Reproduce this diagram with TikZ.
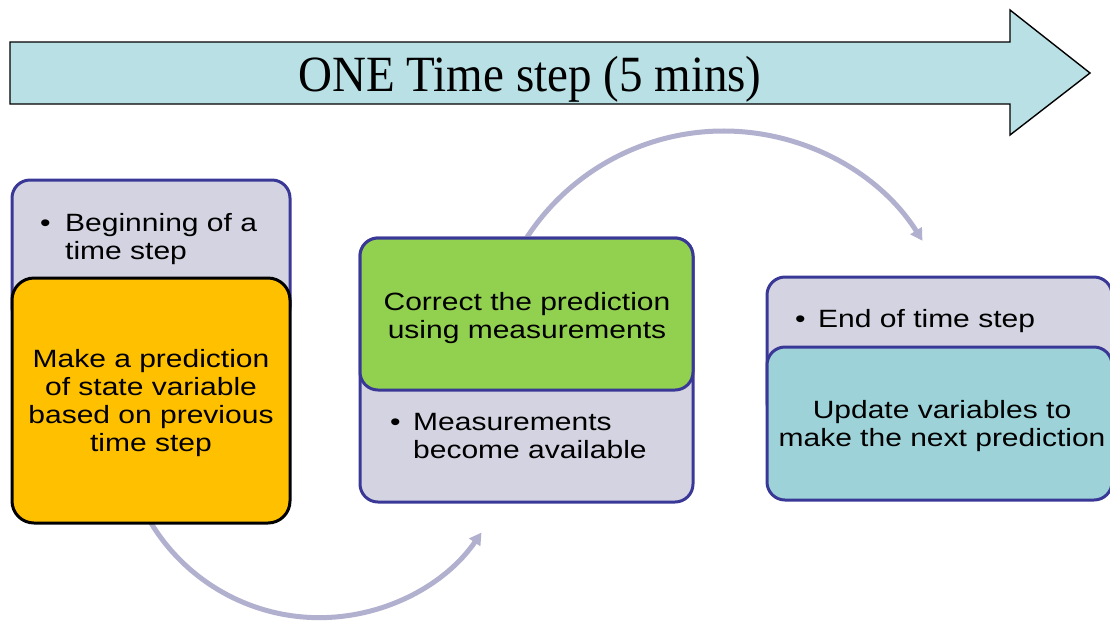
\documentclass[tikz,border=0pt]{standalone}
\usepackage{graphicx}
\usepackage{fontspec}
\setmainfont{Liberation Sans}
\newfontfamily\titlefont{Liberation Serif}
\usetikzlibrary{arrows.meta}

\definecolor{bannerfill}{RGB}{185,224,228}
\definecolor{panelgray}{RGB}{211,211,225}
\definecolor{paneledge}{RGB}{58,56,150}
\definecolor{predfill}{RGB}{255,192,0}
\definecolor{corrfill}{RGB}{146,208,80}
\definecolor{updfill}{RGB}{157,211,216}
\definecolor{loopline}{RGB}{177,177,207}

% slightly widened body text
\newcommand{\wtext}[1]{\scalebox{1.2}[1]{#1}}

\begin{document}
\begin{tikzpicture}[x=1pt,y=-1pt,
  box/.style={line width=3pt, inner sep=0pt, outer sep=0pt, rounded corners=18pt},
  panel/.style={box, draw=paneledge, fill=panelgray},
  line/.style={font=\fontsize{25}{28}\selectfont, inner sep=0pt, text=black},
  loopflow/.style={draw=loopline, line width=5pt,
    -{Triangle[length=12pt,width=13pt]}},
  banner/.style={draw=black, line width=1.4pt, fill=bannerfill, line join=miter}]
\useasboundingbox (0,0) rectangle (1110,622);
\clip (0,0) rectangle (1110,622);

% banner arrow for the whole time step
\draw[banner] (10,42) -- (1010,42) -- (1010,10) -- (1090,73) -- (1010,135)
  -- (1010,104) -- (10,104) -- cycle;
\node[inner sep=0pt, anchor=base, font=\titlefont\fontsize{47}{52}\selectfont]
  (title) at (530,91.5) {\scalebox{1}[1.08]{ONE Time step (5 mins)}};

% panels: placed first so that the loops can start from them
\node[panel, minimum width=278pt, minimum height=145pt] (begin) at (151,252.5) {};
\node[panel, minimum width=333pt, minimum height=264pt] (meas) at (526.5,370) {};
\node[panel, minimum width=345pt, minimum height=143pt] (endp) at (939.5,348.5) {};

% loops between the stages (behind the coloured boxes)
\node[box, minimum width=278pt, minimum height=245pt, rounded corners=22pt]
  (predghost) at (151,400.5) {};
\draw[loopflow] (predghost.south) arc[start angle=148.7, end angle=34.6, radius=197];
\node[box, minimum width=333pt, minimum height=152pt] (corrghost) at (526.5,314) {};
\draw[loopflow] (corrghost.north) arc[start angle=-147, end angle=-32.2, radius=235];

% coloured stage boxes
\node[box, draw=black, fill=predfill, minimum width=278pt, minimum height=245pt,
  rounded corners=22pt] (pred) at (151,400.5) {};
\node[box, draw=paneledge, fill=corrfill, minimum width=333pt, minimum height=152pt]
  (corr) at (526.5,314) {};
\node[box, draw=paneledge, fill=updfill, minimum width=345pt, minimum height=153pt]
  (upd) at (939.5,423.5) {};

% panel 1 text
\node[line, anchor=base west] (b1) at (40,231) {\wtext{\textbullet}};
\node[line, anchor=base west] (t1a) at (65,231) {\wtext{Beginning of a}};
\node[line, anchor=base west] (t1b) at (65,259) {\wtext{time step}};

% prediction text
\node[line, anchor=base] (p1) at (151,367) {\wtext{Make a prediction}};
\node[line, anchor=base] (p2) at (151,395) {\wtext{of state variable}};
\node[line, anchor=base] (p3) at (151,423) {\wtext{based on previous}};
\node[line, anchor=base] (p4) at (151,451) {\wtext{time step}};

% correction text
\node[line, anchor=base] (c1) at (527,310) {\wtext{Correct the prediction}};
\node[line, anchor=base] (c2) at (527,338) {\wtext{using measurements}};

% panel 2 text
\node[line, anchor=base west] (b2) at (390,430) {\wtext{\textbullet}};
\node[line, anchor=base west] (t2a) at (413,430) {\wtext{Measurements}};
\node[line, anchor=base west] (t2b) at (413,458) {\wtext{become available}};

% panel 3 text
\node[line, anchor=base west] (b3) at (795,327) {\wtext{\textbullet}};
\node[line, anchor=base west] (t3a) at (818,327) {\wtext{End of time step}};

% update text
\node[line, anchor=base] (u1) at (942,418) {\wtext{Update variables to}};
\node[line, anchor=base] (u2) at (942,446) {\wtext{make the next prediction}};
\end{tikzpicture}
\end{document}
